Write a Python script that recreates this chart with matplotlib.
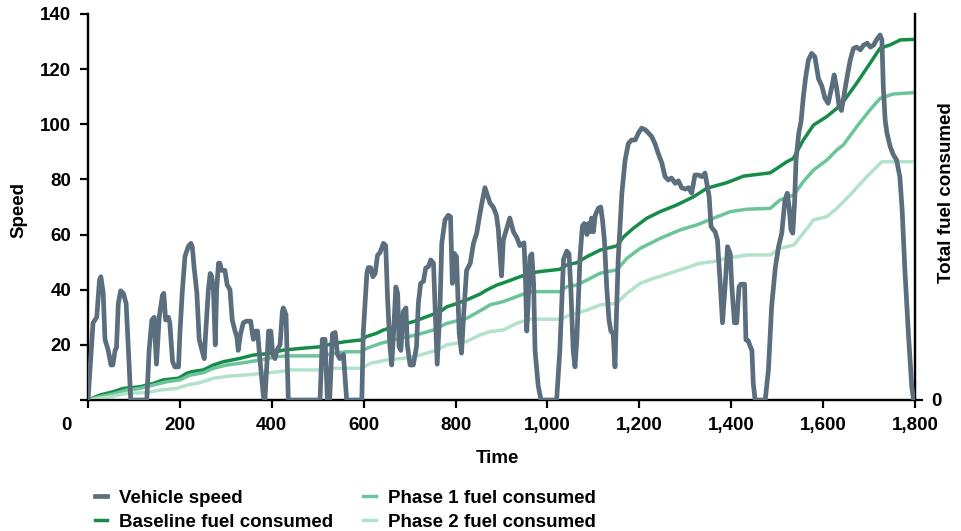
import matplotlib
matplotlib.use("Agg")
import matplotlib.pyplot as plt
from matplotlib.ticker import FuncFormatter
from matplotlib.transforms import ScaledTranslation

plt.rcParams['font.family'] = ['Liberation Sans', 'DejaVu Sans']
plt.rcParams['font.weight'] = 'bold'

# ---- data ----
speed_time = [0, 11, 19, 25, 28, 33, 37, 44, 50, 54, 59, 62, 66, 71, 77, 83, 88, 93, 128, 133,
              139, 144, 149, 155, 162, 165, 169, 175, 178, 184, 189, 197, 200, 205, 211, 218, 224, 227, 231, 237,
              242, 248, 253, 256, 262, 266, 269, 273, 277, 280, 284, 287, 291, 298, 303, 309, 314, 320, 324, 327,
              332, 338, 345, 354, 358, 360, 365, 369, 374, 382, 385, 389, 393, 398, 402, 407, 411, 418, 423, 425,
              431, 436, 505, 510, 516, 521, 526, 532, 538, 543, 548, 556, 563, 596, 599, 607, 610, 615, 620, 625,
              630, 636, 643, 648, 652, 657, 661, 665, 670, 674, 677, 681, 686, 692, 695, 701, 708, 715, 719, 724,
              730, 735, 741, 746, 752, 755, 760, 766, 770, 777, 784, 789, 793, 797, 802, 808, 813, 818, 824, 832,
              839, 846, 853, 858, 864, 870, 875, 882, 889, 893, 900, 904, 911, 918, 926, 933, 940, 949, 952, 955,
              958, 962, 966, 970, 973, 980, 986, 1020, 1027, 1035, 1042, 1047, 1051, 1056, 1060, 1064, 1071, 1076, 1080, 1086,
              1089, 1093, 1096, 1100, 1104, 1111, 1116, 1120, 1124, 1129, 1134, 1138, 1143, 1147, 1150, 1154, 1162, 1169, 1176, 1183,
              1191, 1198, 1205, 1213, 1220, 1227, 1234, 1241, 1249, 1256, 1263, 1270, 1278, 1285, 1292, 1300, 1307, 1314, 1321, 1329,
              1336, 1343, 1352, 1356, 1360, 1365, 1370, 1376, 1381, 1387, 1392, 1398, 1401, 1407, 1412, 1417, 1421, 1429, 1432, 1437,
              1441, 1445, 1448, 1452, 1474, 1481, 1488, 1496, 1503, 1510, 1517, 1522, 1526, 1530, 1534, 1538, 1541, 1547, 1552, 1557,
              1562, 1568, 1575, 1582, 1590, 1597, 1604, 1611, 1619, 1624, 1629, 1635, 1640, 1645, 1651, 1659, 1666, 1673, 1681, 1688,
              1696, 1703, 1710, 1716, 1724, 1728, 1731, 1735, 1739, 1746, 1753, 1760, 1767, 1772, 1778, 1786, 1793, 1797, 1800]
speed_value = [0, 28, 30, 43.5, 44.7, 39, 22, 18, 12.7, 12.7, 18, 19, 35, 39.6, 38.7, 35, 18, 0, 0, 18,
               29, 30, 13, 30, 38, 38.7, 29, 30, 28, 14, 12, 12, 24, 38.7, 52, 55.6, 56.8, 55.6, 48, 38.7,
               22, 18, 15, 24, 40, 45.9, 45, 40, 20, 40, 49.6, 49.6, 47, 47, 41.7, 40, 29, 25, 22.9, 18,
               24, 28, 28.6, 28.6, 24, 22, 25, 25, 15, 1, 0, 12, 25, 25, 16.5, 15, 18, 20, 32, 33.4,
               31, 0, 0, 22, 22, 0, 0, 24, 24.5, 16.5, 15, 16.5, 0, 0, 24, 45.9, 48, 48, 44.7, 45.9,
               52.4, 53.6, 56.8, 56, 37, 20, 12.7, 24, 41, 38.7, 19.3, 18, 32, 33.4, 20, 12.7, 12.7, 19.3, 35, 42.3,
               43, 47.8, 48.4, 50.8, 49.6, 36, 13, 33, 56.8, 65.3, 67, 66.5, 42.3, 53.2, 52, 24, 17, 32, 47, 49.6,
               56.8, 60.5, 67.5, 72, 77, 74, 71.4, 70, 67, 62, 45, 58, 62, 66, 61, 59, 56, 57, 45, 25,
               35, 52, 53, 42, 18, 5, 0, 0, 18, 51, 54, 53, 40, 18, 12, 22, 52, 63, 64, 60,
               64, 61, 66, 61, 67, 69.6, 70, 65, 58, 41, 29, 25, 24, 12, 30, 51, 75, 87, 93, 94.3,
               94.3, 96.8, 98.6, 98, 96.8, 95.5, 93, 89.5, 86, 81, 79.8, 80.5, 78.6, 79.5, 77, 76.5, 77, 75, 81.6, 81.6,
               81, 82.3, 73.7, 63, 62, 61, 58, 42.4, 28, 42, 55.6, 53, 42, 28, 28, 41, 42, 42, 21.8, 21.5,
               19.6, 18, 6, 0, 0, 11, 34, 48, 55.6, 60.5, 72.5, 75, 70, 61.7, 60.5, 72, 87, 96.8, 101, 110,
               117, 123.3, 125.7, 124.5, 116.5, 114, 109.5, 107.6, 113.6, 117.9, 113.6, 106.4, 105, 110, 116, 123.3, 127.5, 128, 127, 128.7,
               129.4, 128, 128.7, 130.6, 132.4, 130.6, 113.6, 101.6, 96.8, 91.9, 88.9, 87, 81, 69, 47, 23, 4.8, 0, 0]

baseline_time = [0, 26, 55, 77, 113, 142, 164, 197, 215, 227, 251, 273, 295, 331, 360, 396, 425, 462, 505, 534,
                 563, 596, 606, 628, 643, 679, 708, 737, 766, 781, 803, 824, 853, 868, 890, 911, 940, 962, 984, 1027,
                 1042, 1064, 1086, 1115, 1151, 1166, 1187, 1216, 1245, 1281, 1318, 1347, 1390, 1427, 1485, 1521, 1535, 1557, 1579, 1608,
                 1630, 1644, 1673, 1702, 1724, 1746, 1768, 1800]
baseline_fuel = [0, 1.8, 3, 4.2, 4.8, 6, 7.3, 7.9, 9.7, 10.3, 10.9, 12.7, 13.9, 15.1, 16.3, 16.9, 18.1, 18.7, 19.3, 20.5,
                 21.2, 21.8, 23, 24.2, 25.4, 27.2, 28.4, 30.2, 32, 33.8, 35, 36.3, 38.4, 39.9, 41.7, 42.9, 44.7, 46, 46.6, 47.4,
                 49, 49.8, 52, 54.4, 55.9, 59.2, 62.3, 65.9, 68.3, 70.7, 73.7, 76.8, 78.8, 81.2, 82.4, 86.4, 87.6, 94.3, 99.7, 102.8,
                 105.8, 108.2, 114.9, 122.1, 127.6, 128.8, 130.6, 130.8]

phase1_time = [0, 26, 55, 84, 113, 142, 171, 200, 222, 251, 273, 302, 338, 374, 411, 432, 505, 534, 563, 596,
               606, 636, 679, 715, 752, 781, 824, 853, 875, 904, 933, 962, 1027, 1042, 1064, 1086, 1115, 1151, 1173, 1202,
               1245, 1289, 1325, 1361, 1398, 1434, 1485, 1506, 1536, 1557, 1579, 1608, 1630, 1644, 1673, 1702, 1724, 1753, 1800]
phase1_fuel = [0, 1.2, 2.2, 3.6, 4.2, 5.4, 6.6, 7.3, 9, 9.9, 11.5, 12.7, 13.5, 14.5, 15.7, 16, 16, 16.9, 17.5, 17.5,
               18.7, 20.5, 22.4, 23.6, 25.4, 27.8, 29.6, 32.3, 34.5, 35.7, 37.5, 39.3, 39.3, 41.1, 41.7, 43.5, 46, 47.2, 51.4, 55,
               58.6, 61.7, 63.5, 65.9, 68.3, 69.2, 69.5, 72.5, 74.4, 79.2, 83.4, 87, 90.7, 92.5, 99.1, 105.2, 109.4, 111, 111.5]

phase2_time = [0, 26, 55, 84, 128, 157, 193, 215, 244, 273, 309, 345, 382, 418, 440, 505, 534, 596, 614, 650,
               686, 723, 759, 781, 824, 853, 875, 904, 933, 962, 1027, 1049, 1086, 1115, 1151, 1173, 1202, 1231, 1289, 1332,
               1361, 1390, 1434, 1485, 1506, 1536, 1557, 1579, 1608, 1630, 1659, 1695, 1728, 1800]
phase2_fuel = [0, 0.6, 1.4, 2.4, 2.7, 3.6, 4.2, 5.4, 6.3, 7.9, 8.7, 9.1, 9.7, 10.3, 10.9, 10.9, 11.5, 11.5, 13.3, 14.5,
               15.1, 16.3, 18.1, 20, 21.2, 23.6, 24.8, 25.4, 27.8, 29.3, 29.3, 30.8, 32.6, 34.5, 35.1, 38.7, 42.3, 44.1, 47.2, 49.6,
               50.2, 51.4, 52.6, 52.6, 55, 56.2, 60.5, 65.3, 66.5, 69.5, 74.4, 81, 86.4, 86.4]

x_ticks = [0, 200, 400, 600, 800, 1000, 1200, 1400, 1600, 1800]
y_ticks = [0, 20, 40, 60, 80, 100, 120, 140]

labels = ["Vehicle speed", "Baseline fuel consumed", "Phase 1 fuel consumed", "Phase 2 fuel consumed"]
colors = ["#5a6e7e", "#168c48", "#6cc49b", "#b3e2cb"]

# ---- figure ----
W, H = 961, 531
fig = plt.figure(figsize=(W/100, H/100), dpi=100)
ax = fig.add_axes([88/W, 1 - 400/H, (915-88)/W, (400-14)/H])
ax2 = ax.twinx()

FS = 13.5
l_speed, = ax.plot(speed_time, speed_value, color=colors[0], lw=3.4, solid_joinstyle='round', zorder=3)
l_base, = ax2.plot(baseline_time, baseline_fuel, color=colors[1], lw=2.5, solid_joinstyle='round', zorder=4)
l_p1, = ax2.plot(phase1_time, phase1_fuel, color=colors[2], lw=2.5, solid_joinstyle='round', zorder=4)
l_p2, = ax2.plot(phase2_time, phase2_fuel, color=colors[3], lw=2.5, solid_joinstyle='round', zorder=4)

ax.set_zorder(ax2.get_zorder() + 1)
ax.patch.set_visible(False)

ax.set_xlim(0, 1800)
ax.set_ylim(0, 140)
ax2.set_ylim(0, 140)

ax.set_xticks(x_ticks)
ax.set_yticks(y_ticks)
ax.xaxis.set_major_formatter(FuncFormatter(lambda v, p: f"{int(v):,}"))
ax.yaxis.set_major_formatter(FuncFormatter(lambda v, p: "" if v == 0 else f"{int(v)}"))
ax2.set_yticks([0])
ax2.set_yticklabels(["0"])

for a in (ax, ax2):
    for s in a.spines.values():
        s.set_linewidth(1.6)
        s.set_color("black")
    a.spines['top'].set_visible(False)
    a.tick_params(width=1.6, length=6, labelsize=FS, color="black")
ax.tick_params(axis='y', pad=6)
ax.tick_params(axis='x', pad=6)
ax2.tick_params(axis='y', pad=6)

for lab in ax.get_xticklabels() + ax.get_yticklabels() + ax2.get_yticklabels():
    lab.set_fontweight('bold')

# shift the "0" x label to the corner, as in the reference
fig.canvas.draw()
xl = ax.get_xticklabels()
xl[0].set_transform(xl[0].get_transform() + ScaledTranslation(-0.22, 0, fig.dpi_scale_trans))

ax.set_xlabel("Time", fontsize=FS, fontweight='bold')
ax.set_ylabel("Speed", fontsize=FS, fontweight='bold')
ax2.set_ylabel("Total fuel consumed", fontsize=FS, fontweight='bold')
ax.xaxis.set_label_coords((497-88)/827, (400-450)/386)
ax.yaxis.set_label_coords((27-88)/827, (400-210)/386)
ax2.yaxis.set_label_coords((938-88)/827, (400-193)/386)

leg = fig.legend([l_speed, l_base, l_p1, l_p2], labels, ncol=2, loc='upper left',
                 bbox_to_anchor=(78/W, 1 - 473/H), frameon=False,
                 prop={'size': FS, 'weight': 'bold'}, handlelength=0.65, handletextpad=0.65,
                 columnspacing=1.6, labelspacing=0.36)

fig.savefig("out.png", dpi=100)
